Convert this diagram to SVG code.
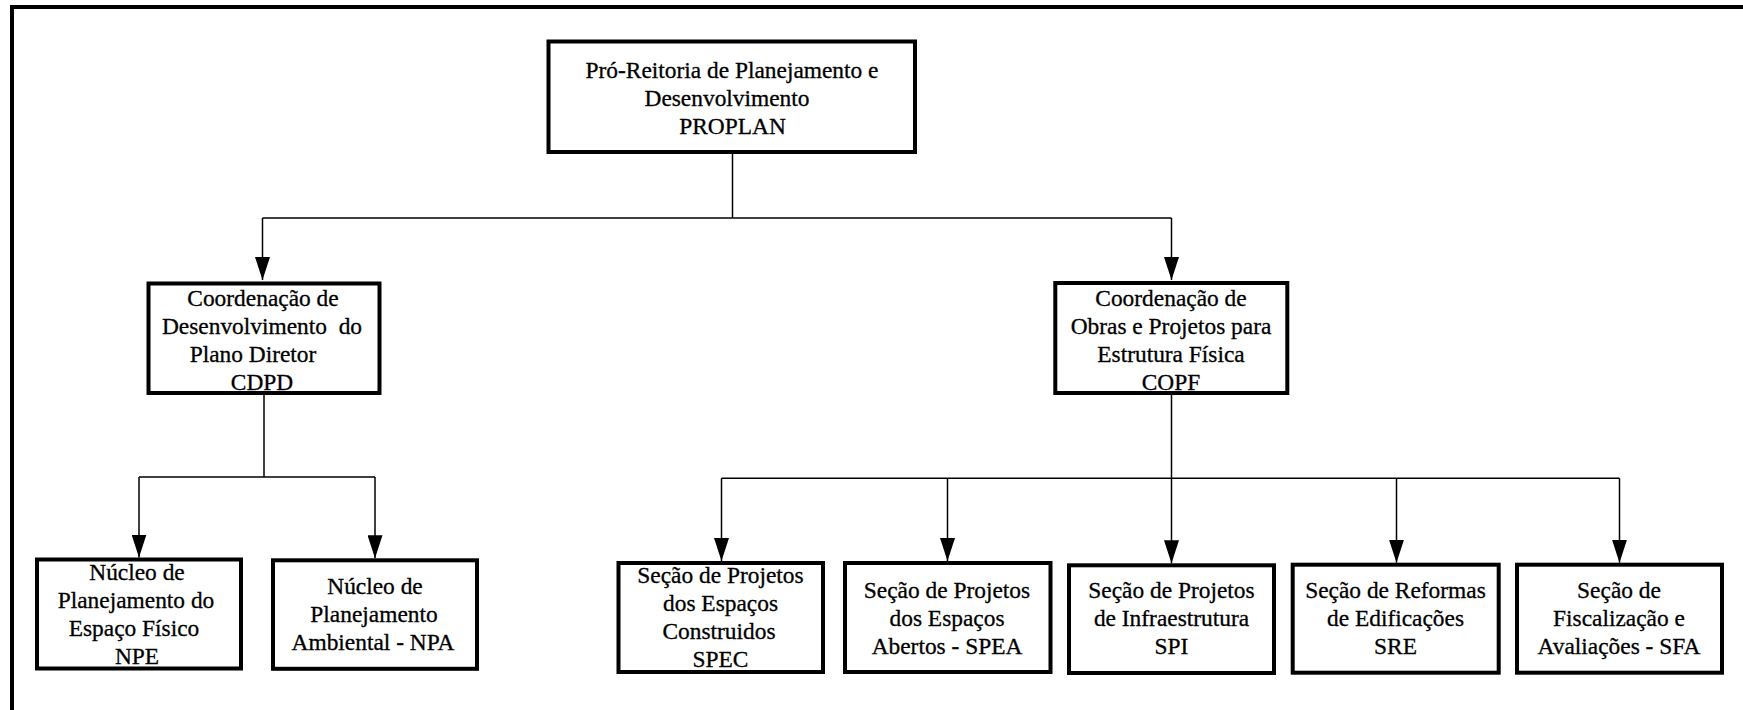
<svg xmlns="http://www.w3.org/2000/svg" width="1743" height="710" viewBox="0 0 1743 710">
<style>
.box{fill:#fff;stroke:#000;stroke-width:4}
.t{font-family:"Liberation Serif","Times New Roman",Times,serif;font-size:23.4px;fill:#000;stroke:#000;stroke-width:0.3;text-anchor:middle}
.c{fill:none;stroke:#000;stroke-width:1.5}
.frame{fill:none;stroke:#000;stroke-width:4}
</style>
<defs>
<marker id="arr" markerUnits="userSpaceOnUse" markerWidth="23" markerHeight="15" refX="23" refY="7.5" orient="auto">
<path d="M0,0 L23,7.5 L0,15 z" fill="#000"/>
</marker>
</defs>
<rect x="0" y="0" width="1743" height="710" fill="#fff"/>
<path class="frame" d="M12 710 V7 H1743"/>
<g id="connectors">
<path class="c" d="M732.5 154 V218"/>
<path class="c" d="M262.5 218 H1171.5"/>
<path class="c" d="M262.5 218 V280" marker-end="url(#arr)"/>
<path class="c" d="M1171.5 218 V280" marker-end="url(#arr)"/>
<path class="c" d="M264 395 V477 M139 477 H375"/>
<path class="c" d="M139 477 V557.5" marker-end="url(#arr)"/>
<path class="c" d="M375 477 V558.3" marker-end="url(#arr)"/>
<path class="c" d="M1171.5 395 V478.3 M721.5 478.3 H1619.5"/>
<path class="c" d="M721.5 478.3 V561" marker-end="url(#arr)"/>
<path class="c" d="M947.5 478.3 V561" marker-end="url(#arr)"/>
<path class="c" d="M1171.5 478.3 V563.3" marker-end="url(#arr)"/>
<path class="c" d="M1396.5 478.3 V562.7" marker-end="url(#arr)"/>
<path class="c" d="M1619.5 478.3 V562.7" marker-end="url(#arr)"/>
</g>
<g id="proplan">
<rect class="box" x="548.5" y="41.5" width="366.5" height="110.5"/>
<text class="t" x="732" y="78">Pró-Reitoria de Planejamento e</text>
<text class="t" x="727" y="106">Desenvolvimento</text>
<text class="t" x="732.5" y="134">PROPLAN</text>
</g>
<g id="cdpd">
<rect class="box" x="148.5" y="283.5" width="231" height="109.5"/>
<text class="t" x="263" y="306">Coordenação de</text>
<text class="t" x="262" y="334">Desenvolvimento&#160; do</text>
<text class="t" x="253" y="362">Plano Diretor</text>
<text class="t" x="262" y="390">CDPD</text>
</g>
<g id="copf">
<rect class="box" x="1055.3" y="283" width="232" height="110"/>
<text class="t" x="1171" y="306">Coordenação de</text>
<text class="t" x="1171" y="334">Obras e Projetos para</text>
<text class="t" x="1171" y="362">Estrutura Física</text>
<text class="t" x="1171" y="390">COPF</text>
</g>
<g id="npe">
<rect class="box" x="37" y="559.5" width="204" height="109"/>
<text class="t" x="137" y="580">Núcleo de</text>
<text class="t" x="136" y="608">Planejamento do</text>
<text class="t" x="134" y="636">Espaço Físico</text>
<text class="t" x="137" y="664">NPE</text>
</g>
<g id="npa">
<rect class="box" x="273" y="560.3" width="204" height="108.5"/>
<text class="t" x="375" y="594">Núcleo de</text>
<text class="t" x="374" y="622">Planejamento</text>
<text class="t" x="373" y="650">Ambiental - NPA</text>
</g>
<g id="spec">
<rect class="box" x="618.5" y="563" width="204.5" height="109"/>
<text class="t" x="720.5" y="583">Seção de Projetos</text>
<text class="t" x="720.5" y="611">dos Espaços</text>
<text class="t" x="719" y="639">Construidos</text>
<text class="t" x="720.5" y="667">SPEC</text>
</g>
<g id="spea">
<rect class="box" x="845" y="563" width="205.5" height="109"/>
<text class="t" x="947" y="598">Seção de Projetos</text>
<text class="t" x="947" y="626">dos Espaços</text>
<text class="t" x="947" y="654">Abertos - SPEA</text>
</g>
<g id="spi">
<rect class="box" x="1069" y="565.3" width="205" height="107.7"/>
<text class="t" x="1171.5" y="598">Seção de Projetos</text>
<text class="t" x="1171.5" y="626">de Infraestrutura</text>
<text class="t" x="1171.5" y="654">SPI</text>
</g>
<g id="sre">
<rect class="box" x="1292.7" y="564.7" width="206" height="108"/>
<text class="t" x="1395.5" y="598">Seção de Reformas</text>
<text class="t" x="1395.5" y="626">de Edificações</text>
<text class="t" x="1395.5" y="654">SRE</text>
</g>
<g id="sfa">
<rect class="box" x="1517" y="564.7" width="205" height="108"/>
<text class="t" x="1619" y="598">Seção de</text>
<text class="t" x="1619" y="626">Fiscalização e</text>
<text class="t" x="1619" y="654">Avaliações - SFA</text>
</g>
</svg>
